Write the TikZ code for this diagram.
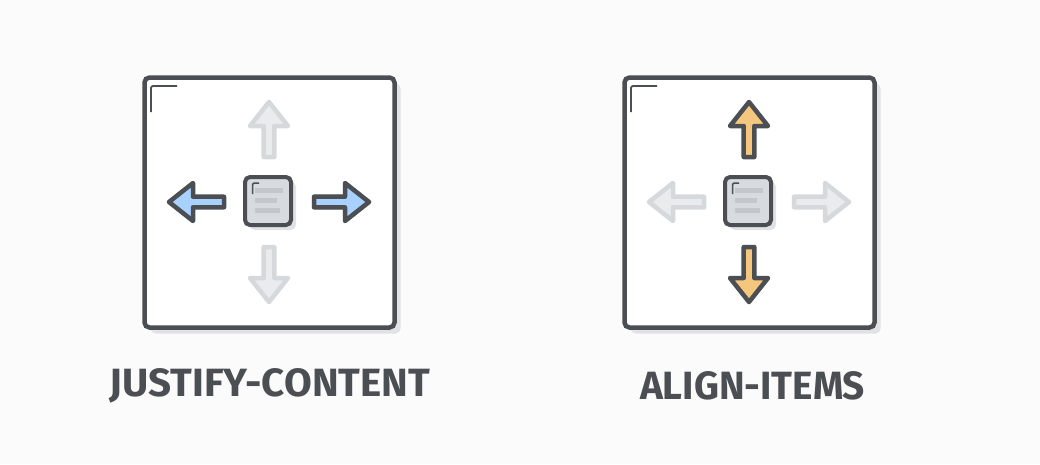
\documentclass[tikz,border=0pt]{standalone}
\usepackage{fontspec}
\setmainfont{Fira Sans}
\usepackage{graphicx}
\definecolor{bg}{HTML}{FBFBFB}
\definecolor{ink}{HTML}{4B4E52}
\definecolor{shade}{HTML}{E1E2E4}
\definecolor{itemfill}{HTML}{D7DADE}
\definecolor{barcol}{HTML}{C3C7CB}
\definecolor{blueA}{HTML}{A8D1FD}
\definecolor{orangeA}{HTML}{F5C77E}
\definecolor{fadeline}{HTML}{D6D9DC}
\definecolor{fadefill}{HTML}{E9EBED}
\tikzset{
  x=1pt, y=-1pt,
  bigbox/.style={draw=ink, line width=4.5pt, fill=white, rounded corners=5pt},
  bigshadow/.style={fill=shade, rounded corners=5pt},
  cornermark/.style={draw=ink, line width=1.8pt, rounded corners=2pt},
  itembox/.style={draw=ink, line width=4pt, fill=itemfill, rounded corners=5pt},
  itemshadow/.style={fill=shade, rounded corners=5pt},
  barfill/.style={fill=barcol},
  arrowon/.style={draw=ink, line width=4.5pt, line join=round},
  arrowoff/.style={draw=fadeline, line width=4.5pt, line join=round, fill=fadefill},
  labeltext/.style={text=ink, inner sep=0pt},
  pics/arr/.style={code={
    \path[pic actions] (45,-5.3) -- (76,-5.3) -- (76,-19) -- (100,0) -- (76,19) -- (76,5.3) -- (45,5.3) -- cycle;
  }}
}
\begin{document}
\begin{tikzpicture}
\useasboundingbox[fill=bg] (0,0) rectangle (1040,464);
% ---- left panel ----
\begin{scope}[shift={(0,0)}]
  \fill[bigshadow] (150.5,83.5) rectangle (400.5,333.5);
  \draw[bigbox] (144.5,77.5) rectangle (394.5,327.5);
  \draw[cornermark] (151,112) -- (151,86) -- (177,86);
  \pic[arrowoff] at (269,202) {arr};
  \pic[arrowoff, rotate=90] at (269,202) {arr};
  \pic[arrowoff, rotate=270] at (269,202) {arr};
  \pic[arrowon, fill=blueA] at (269,202) {arr};
  \pic[arrowon, fill=blueA, rotate=180] at (269,202) {arr};
  \fill[itemshadow] (250,182) rectangle (296,230);
  \draw[itembox] (245,177) rectangle (291,225);
  \fill[barfill] (255,188) rectangle (283,193);
  \fill[barfill] (255,198) rectangle (277,203);
  \fill[barfill] (255,208) rectangle (280,213);
  \draw[ink, line width=1.5pt, rounded corners=1.5pt] (252.5,194) -- (252.5,183) -- (259,183);
\end{scope}
\node[labeltext] (lj) at (270,386) {\resizebox{320pt}{28pt}{\bfseries JUSTIFY-CONTENT}};
% ---- right panel ----
\begin{scope}[shift={(480,0)}]
  \fill[bigshadow] (150.5,83.5) rectangle (400.5,333.5);
  \draw[bigbox] (144.5,77.5) rectangle (394.5,327.5);
  \draw[cornermark] (151,112) -- (151,86) -- (177,86);
  \pic[arrowoff] at (269,202) {arr};
  \pic[arrowoff, rotate=180] at (269,202) {arr};
  \pic[arrowon, fill=orangeA, rotate=90] at (269,202) {arr};
  \pic[arrowon, fill=orangeA, rotate=270] at (269,202) {arr};
  \fill[itemshadow] (250,182) rectangle (296,230);
  \draw[itembox] (245,177) rectangle (291,225);
  \fill[barfill] (255,188) rectangle (283,193);
  \fill[barfill] (255,198) rectangle (277,203);
  \fill[barfill] (255,208) rectangle (280,213);
  \draw[ink, line width=1.5pt, rounded corners=1.5pt] (252.5,194) -- (252.5,183) -- (259,183);
\end{scope}
\node[labeltext] (la) at (752.5,386) {\resizebox{225pt}{28pt}{\bfseries ALIGN-ITEMS}};
\end{tikzpicture}
\end{document}
